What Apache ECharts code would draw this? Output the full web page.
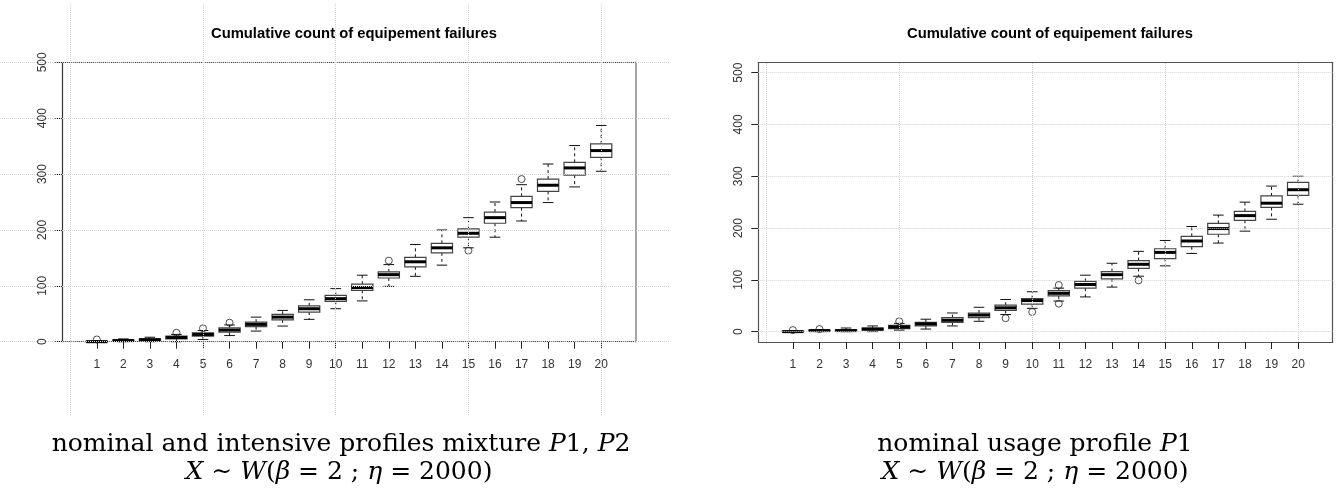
<!DOCTYPE html>
<html><head><meta charset="utf-8">
<script src="https://cdn.jsdelivr.net/npm/echarts@6/dist/echarts.min.js"></script>
<style>html,body{margin:0;padding:0;background:#fff}#c{width:1341px;height:499px}</style>
</head><body><div id="c"></div><script>
// ---------- data ----------
const categories = [1,2,3,4,5,6,7,8,9,10,11,12,13,14,15,16,17,18,19,20];
const yTickValues = [0,100,200,300,400,500];
const gridXValues = [0,5,10,15,20];

// mixture of nominal and intensive profiles P1,P2
const mixLow  = [0,0,0,0,4,11,19,28,40,59,73,99,117,137,168,187,216,249,277,305];
const mixQ1   = [0,1,2,5,10,17,27,39,53,72,92,114,134,159,187,212,240,269,298,330];
const mixMed  = [0,2,3.5,7.5,13,21,31,44,59,77,97,120,143,168,194,222,249,280,311,342];
const mixQ3   = [1,3,5,10,16,25,35,49,64,83,103,125,151,176,202,232,260,291,321,354];
const mixHigh = [2,5,8,13,20,30,44,56,75,95,119,138,174,200,222,250,281,318,351,387];
const mixOutliers = [[1,4],[4,16],[5,24],[6,34],[12,145],[15,163],[17,291]];

// nominal usage profile P1
const nomLow  = [0,0,0,0,3,5,11,20,33,45,59,67,86,107,127,151,171,194,217,246];
const nomQ1   = [0,1,1,3,6,11,18,27,41,53,69,84,102,122,141,164,188,215,240,263];
const nomMed  = [0,2,2,5,9,15,22,32,46,60,74,91,110,130,153,175,199,224,248,274];
const nomQ3   = [1,3,4,7,12,18,27,36,51,64,79,97,116,137,160,184,209,232,262,288];
const nomHigh = [2,4,7,11,16,24,36,47,62,77,84,109,132,155,176,203,225,250,281,300];
const nomOutliers = [[1,3],[2,5],[5,20],[9,26],[10,38],[11,90],[11,54],[14,99]];

const chartTitle = 'Cumulative count of equipement failures';

// ---------- helpers ----------
function boxRows(low,q1,med,q3,high){
  return categories.map((c,i)=>[c,low[i],q1[i],med[i],q3[i],high[i]]);
}
function renderBox(params, api){
  const x = api.value(0);
  const lo = api.coord([x, api.value(1)]);
  const q1 = api.coord([x, api.value(2)]);
  const md = api.coord([x, api.value(3)]);
  const q3 = api.coord([x, api.value(4)]);
  const hi = api.coord([x, api.value(5)]);
  const w = api.size([1,0])[0]*0.8;
  const cx = lo[0], hw = w/2, cw = w/4;
  const dash = {stroke:'#111', lineWidth:1, lineDash:[3,3]};
  return {type:'group', children:[
    {type:'line', shape:{x1:cx,y1:q3[1],x2:cx,y2:hi[1]}, style:dash},
    {type:'line', shape:{x1:cx,y1:q1[1],x2:cx,y2:lo[1]}, style:dash},
    {type:'line', shape:{x1:cx-cw,y1:hi[1],x2:cx+cw,y2:hi[1]}, style:{stroke:'#111',lineWidth:1}},
    {type:'line', shape:{x1:cx-cw,y1:lo[1],x2:cx+cw,y2:lo[1]}, style:{stroke:'#111',lineWidth:1}},
    {type:'rect', shape:{x:cx-hw,y:q3[1],width:w,height:Math.max(q1[1]-q3[1],0.5)}, style:{fill:'#fff',stroke:'#444',lineWidth:1.2}},
    {type:'line', shape:{x1:cx-hw,y1:md[1],x2:cx+hw,y2:md[1]}, style:{stroke:'#000',lineWidth:3}}
  ]};
}
const labelFont = {fontFamily:'Liberation Sans', fontSize:12, color:'#333'};
const gridLineStyle = {color:'#d2d2d2', type:'dotted', width:1};
function gridLinesData(){
  return yTickValues.map(v=>({yAxis:v})).concat(gridXValues.map(v=>({xAxis:v})));
}
function bottomAxis(gridIndex, lineStyle){
  return {type:'value', gridIndex, position:'bottom', min:-0.3, max:21.3,
    axisLine:{show:true, onZero:false, lineStyle},
    axisTick:{show:true, length:7, customValues:categories, lineStyle:{color:'#222'}},
    axisLabel:{show:true, customValues:categories, margin:17, ...labelFont},
    splitLine:{show:false}};
}
function topAxis(gridIndex, lineStyle){
  return {type:'value', gridIndex, position:'top', min:-0.3, max:21.3,
    axisLine:{show:true, onZero:false, lineStyle}, axisTick:{show:false}, axisLabel:{show:false}, splitLine:{show:false}};
}
function leftAxis(gridIndex, min, max, lineStyle){
  return {type:'value', gridIndex, position:'left', min, max,
    axisLine:{show:true, onZero:false, lineStyle},
    axisTick:{show:true, length:7, customValues:yTickValues, lineStyle:{color:'#222'}},
    axisLabel:{show:true, rotate:90, customValues:yTickValues, margin:14, ...labelFont},
    splitLine:{show:false}};
}
function rightAxis(gridIndex, min, max, lineStyle){
  return {type:'value', gridIndex, position:'right', min, max,
    axisLine:{show:true, onZero:false, lineStyle}, axisTick:{show:false}, axisLabel:{show:false}, splitLine:{show:false}};
}

const capFont = 'DejaVu Serif';
const capSize = 25;
const rich = {
  r:{fontFamily:capFont, fontSize:capSize, fontWeight:'normal', color:'#000'},
  i:{fontFamily:capFont, fontSize:capSize, fontWeight:'normal', fontStyle:'italic', color:'#000'}
};
const capStyle = {fontWeight:'normal', fontFamily:capFont, fontSize:capSize, rich};
const cap1L = '{r|nominal and intensive profiles mixture }{i|P}{r|1, }{i|P}{r|2}';
const cap1R = '{r|nominal usage profile }{i|P}{r|1}';
const cap2  = '{i|X}{r| \u223C }{i|W}{r|(}{i|\u03B2}{r| = 2 ; }{i|\u03B7}{r| = 2000)}';
const titleStyle = {fontFamily:'Liberation Sans', fontWeight:'bold', fontSize:14.8, color:'#000'};

const chart = echarts.init(document.getElementById('c'), null, {renderer:'canvas'});
chart.setOption({
  animation:false,
  backgroundColor:'#fff',
  title:[
    {text:chartTitle, left:349, top:21, textAlign:'center', textStyle:titleStyle},
    {text:chartTitle, left:1045, top:21, textAlign:'center', textStyle:titleStyle},
    {text:cap1L, left:336, top:427, textAlign:'center', textStyle:capStyle},
    {text:cap2, left:334, top:455, textAlign:'center', textStyle:capStyle},
    {text:cap1R, left:1030, top:427, textAlign:'center', textStyle:capStyle},
    {text:cap2, left:1030, top:455, textAlign:'center', textStyle:capStyle}
  ],
  grid:[
    {left:62.3, top:62.3, width:573.4, height:279.4},
    {left:758.3, top:62.3, width:574.4, height:279.7},
    {left:0, top:3, width:670, height:412}
  ],
  xAxis:[
    bottomAxis(0, {color:'#444', type:'dotted', width:1.2}),
    topAxis(0, {color:'#444', type:'dotted', width:1.2}),
    bottomAxis(1, {color:'#555', width:1.2}),
    topAxis(1, {color:'#555', width:1.2}),
    {type:'value', gridIndex:2, min:-2.647, max:22.593, show:false}
  ],
  yAxis:[
    leftAxis(0, 0, 500, {color:'#333', width:1.2}),
    rightAxis(0, 0, 500, {color:'#888', width:1.5}),
    leftAxis(1, -20, 520, {color:'#555', width:1.2}),
    rightAxis(1, -20, 520, {color:'#555', width:1.2}),
    {type:'value', gridIndex:2, min:-131.2, max:606.1, show:false}
  ],
  series:[
    {type:'line', xAxisIndex:4, yAxisIndex:4, data:[], silent:true,
      markLine:{silent:true, symbol:['none','none'], label:{show:false}, lineStyle:gridLineStyle, emphasis:{disabled:true}, data:gridLinesData()}},
    {type:'line', xAxisIndex:2, yAxisIndex:2, data:[], silent:true,
      markLine:{silent:true, symbol:['none','none'], label:{show:false}, lineStyle:gridLineStyle, emphasis:{disabled:true}, data:gridLinesData()}},
    {type:'custom', xAxisIndex:0, yAxisIndex:0, renderItem:renderBox, encode:{x:0, y:[1,2,3,4,5]}, data:boxRows(mixLow,mixQ1,mixMed,mixQ3,mixHigh), z:3},
    {type:'scatter', xAxisIndex:0, yAxisIndex:0, symbol:'circle', symbolSize:7, itemStyle:{color:'rgba(255,255,255,0)', borderColor:'#222', borderWidth:1}, data:mixOutliers, z:4},
    {type:'custom', xAxisIndex:2, yAxisIndex:2, renderItem:renderBox, encode:{x:0, y:[1,2,3,4,5]}, data:boxRows(nomLow,nomQ1,nomMed,nomQ3,nomHigh), z:3},
    {type:'scatter', xAxisIndex:2, yAxisIndex:2, symbol:'circle', symbolSize:7, itemStyle:{color:'rgba(255,255,255,0)', borderColor:'#222', borderWidth:1}, data:nomOutliers, z:4}
  ]
});
</script></body></html>
